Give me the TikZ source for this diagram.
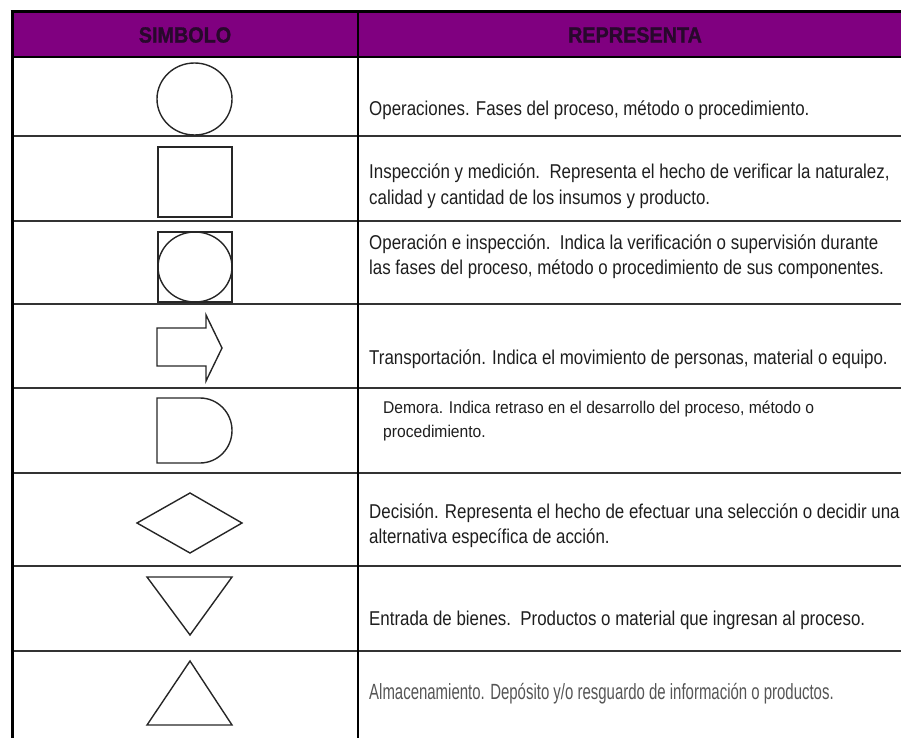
\documentclass[tikz,border=0pt]{standalone}
\usepackage{fontspec}
\setmainfont{Liberation Sans}
\newfontfamily\cellfont[FakeStretch=0.845]{Liberation Sans}
\newfontfamily\smallcellfont[FakeStretch=0.92]{Liberation Sans}
\newfontfamily\storefont[FakeStretch=0.68]{Liberation Sans}
\newfontfamily\headfont[FakeStretch=0.9,FakeBold=1.2]{Liberation Sans Bold}
\definecolor{hdrpurple}{RGB}{128,0,128}
\definecolor{hdrtext}{RGB}{40,8,44}
\definecolor{celltext}{RGB}{30,30,30}
\definecolor{storetext}{RGB}{85,85,85}
\begin{document}
\begin{tikzpicture}[x=1pt,y=-1pt,
  gridline/.style={draw=black!80,line width=2pt},
  frameline/.style={draw=black,line width=3pt},
  sym/.style={draw=black!85,line width=1.4pt,line join=miter},
  desc/.style={anchor=base west,inner sep=0pt,align=left,text=celltext,
    font=\cellfont\fontsize{20}{25}\selectfont},
  head/.style={inner sep=0pt,text=hdrtext,font=\headfont\fontsize{22}{26}\selectfont}]
\useasboundingbox (0,0) rectangle (901,738);
% header
\fill[hdrpurple] (12,12) rectangle (901,57);
\node[head] (hsym) at (185,35) {SIMBOLO};
\node[head] (hrep) at (635,35) {REPRESENTA};
% grid
\draw[draw=black,line width=2pt] (12,57) -- (901,57);
\foreach \yy in {136,221,304,388,473,566,651}
  \draw[gridline] (12,\yy) -- (901,\yy);
\draw[draw=black,line width=1.8pt] (358,12) -- (358,738);
\draw[frameline] (10.5,12) -- (901,12);
\draw[frameline] (12,10.5) -- (12,738);
% symbols
\draw[sym] (194.5,99) ellipse [x radius=37.5,y radius=36];
\draw[sym] (158,147) rectangle (232,217);
\draw[sym] (158,232) rectangle (232,302);
\draw[sym] (195,267) ellipse [x radius=37,y radius=35];
\draw[sym] (157,328) -- (206,328) -- (206,315) -- (222,348) -- (206,381) -- (206,366) -- (157,366) -- cycle;
\draw[sym] (200,398) -- (157,398) -- (157,463) -- (200,463)
  arc[start angle=90,end angle=-90,x radius=32,y radius=32.5];
\draw[sym] (137,523) -- (190,493) -- (242,523) -- (190,553) -- cycle;
\draw[sym] (147,577) -- (232,577) -- (190,635) -- cycle;
\draw[sym] (190,661) -- (232,725) -- (147,725) -- cycle;
% descriptions (multi-line nodes are placed by the baseline of their last line)
\node[desc] (t1) at (369,116) {Operaciones. Fases del proceso, método o procedimiento.};
\node[desc] (t2) at (369,204) {Inspección y medición.\ \ Representa el hecho de verificar la naturalez,\\calidad y cantidad de los insumos y producto.};
\node[desc] (t3) at (369,274) {Operación e inspección.\ \ Indica la verificación o supervisión durante\\las fases del proceso, método o procedimiento de sus componentes.};
\node[desc] (t4) at (369,364) {Transportación. Indica el movimiento de personas, material o equipo.};
\node[desc,font=\smallcellfont\fontsize{17}{24}\selectfont] (t5) at (383,437) {Demora. Indica retraso en el desarrollo del proceso, método o\\procedimiento.};
\node[desc] (t6) at (369,543) {Decisión. Representa el hecho de efectuar una selección o decidir una\\alternativa específica de acción.};
\node[desc] (t7) at (369,625) {Entrada de bienes.\ \ Productos o material que ingresan al proceso.};
\node[desc,text=storetext,font=\storefont\fontsize{22}{26}\selectfont] (t8) at (369,699) {Almacenamiento. Depósito y/o resguardo de información o productos.};
\end{tikzpicture}
\end{document}
